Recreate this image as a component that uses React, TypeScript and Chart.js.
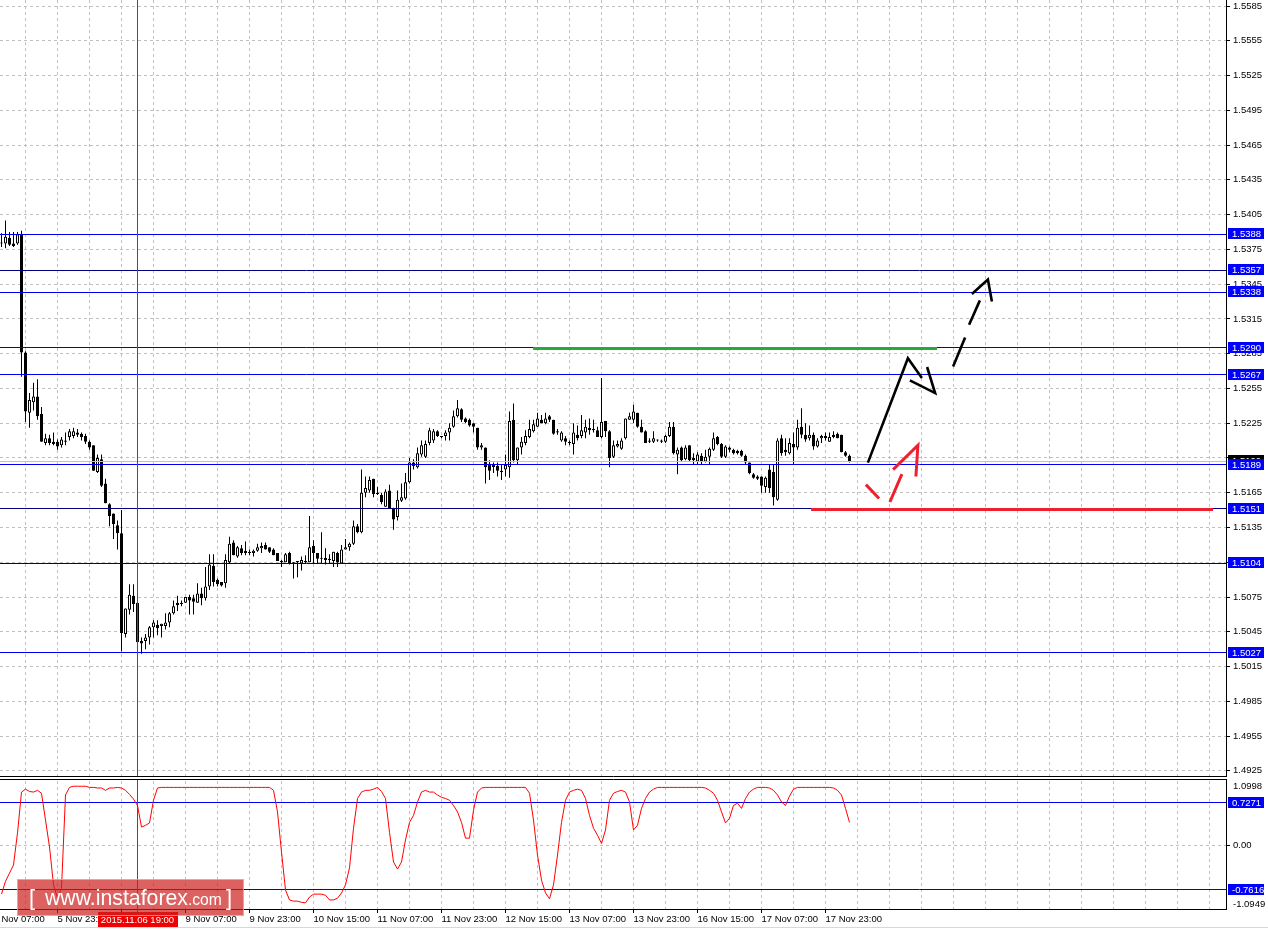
import React, { useEffect, useRef } from "react";
import { Chart, registerables } from "chart.js";

Chart.register(...registerables);

// ---------------- data (H1 candles, 5–17 Nov) ----------------
const OPEN = [
  1.5381, 1.538, 1.5385, 1.538, 1.538, 1.5388, 1.5286, 1.5234, 1.5243, 1.5248,
  1.5233, 1.5208, 1.5212, 1.5209, 1.5209, 1.5206, 1.521, 1.5213, 1.5214, 1.5217,
  1.5216, 1.5214, 1.5209, 1.5206, 1.5183, 1.5194, 1.5173, 1.5155, 1.5147, 1.5137,
  1.513, 1.5043, 1.5064, 1.5076, 1.507, 1.5037, 1.5037, 1.504, 1.5049, 1.5051,
  1.505, 1.505, 1.5053, 1.5061, 1.507, 1.507, 1.507, 1.5075, 1.5074, 1.507,
  1.5078, 1.5074, 1.5084, 1.5102, 1.509, 1.5088, 1.5087, 1.5105, 1.5122, 1.511,
  1.5117, 1.5115, 1.5114, 1.5113, 1.5115, 1.5117, 1.512, 1.5118, 1.5116, 1.5113,
  1.5106, 1.5105, 1.5113, 1.5105, 1.5105, 1.5104, 1.5106, 1.5105, 1.5119, 1.5113,
  1.5109, 1.5109, 1.5108, 1.5106, 1.5113, 1.5104, 1.5116, 1.5118, 1.5121, 1.5136,
  1.5131, 1.5165, 1.5167, 1.5177, 1.5165, 1.5163, 1.5153, 1.5167, 1.5151, 1.5144,
  1.5158, 1.516, 1.5174, 1.5191, 1.5187, 1.5198, 1.5196, 1.5208, 1.521, 1.5218,
  1.5213, 1.5214, 1.5217, 1.5222, 1.5231, 1.5237, 1.5229, 1.5228, 1.5225, 1.5221,
  1.5204, 1.5204, 1.519, 1.5189, 1.5188, 1.5184, 1.5185, 1.5187, 1.5228, 1.5193,
  1.5204, 1.5208, 1.5213, 1.5218, 1.5222, 1.5228, 1.5225, 1.5231, 1.5228, 1.5218,
  1.521, 1.5212, 1.5208, 1.5207, 1.5215, 1.5214, 1.5217, 1.5221, 1.522, 1.5219,
  1.5213, 1.5227, 1.5218, 1.5196, 1.5205, 1.5203, 1.5212, 1.5228, 1.5228, 1.5234,
  1.5222, 1.5218, 1.521, 1.5209, 1.521, 1.521, 1.5209, 1.5214, 1.5222, 1.5198,
  1.5204, 1.5194, 1.5206, 1.5195, 1.5192, 1.5197, 1.5192, 1.5196, 1.5202, 1.5213,
  1.5207, 1.5196, 1.5204, 1.5202, 1.5201, 1.5201, 1.5197, 1.5191, 1.5181, 1.5179,
  1.5179, 1.517, 1.5185, 1.5183, 1.5159, 1.5212, 1.5202, 1.5199, 1.5207, 1.5204,
  1.5222, 1.5215, 1.5212, 1.5215, 1.5205, 1.5212, 1.5214, 1.5209, 1.5215, 1.5216,
  1.5215, 1.52, 1.5197,
];
const HIGH = [
  1.5389, 1.54, 1.539, 1.539, 1.539, 1.5391, 1.5287, 1.5251, 1.526, 1.5263,
  1.5239, 1.5216, 1.5215, 1.5217, 1.5211, 1.5213, 1.5217, 1.522, 1.5221, 1.522,
  1.5217, 1.5216, 1.521, 1.5206, 1.5198, 1.5198, 1.5177, 1.5156, 1.5147, 1.5141,
  1.515, 1.5065, 1.5086, 1.5086, 1.507, 1.504, 1.5043, 1.505, 1.5055, 1.5055,
  1.5052, 1.5061, 1.5062, 1.5072, 1.5076, 1.5072, 1.5075, 1.5077, 1.5077, 1.5087,
  1.5083, 1.5101, 1.5112, 1.5112, 1.5091, 1.5088, 1.5112, 1.5127, 1.5124, 1.5119,
  1.512, 1.5123, 1.5116, 1.5116, 1.5121, 1.5122, 1.5122, 1.5118, 1.5117, 1.5113,
  1.5107, 1.5113, 1.5114, 1.5105, 1.5106, 1.511, 1.5111, 1.5145, 1.5124, 1.5113,
  1.5131, 1.5117, 1.5112, 1.5114, 1.5114, 1.512, 1.5125, 1.5122, 1.5141, 1.5138,
  1.5185, 1.5179, 1.5179, 1.5177, 1.517, 1.5165, 1.5168, 1.5172, 1.5152, 1.5167,
  1.5173, 1.5182, 1.5195, 1.5194, 1.5204, 1.521, 1.521, 1.5221, 1.522, 1.5219,
  1.5214, 1.5219, 1.5225, 1.5236, 1.5245, 1.5238, 1.523, 1.5229, 1.5225, 1.5221,
  1.5208, 1.5204, 1.5193, 1.5191, 1.5191, 1.5189, 1.5198, 1.5235, 1.5242, 1.5204,
  1.5213, 1.5219, 1.5228, 1.5228, 1.5234, 1.5232, 1.5234, 1.5232, 1.5228, 1.522,
  1.5218, 1.5214, 1.521, 1.5225, 1.5223, 1.5232, 1.5228, 1.5229, 1.5228, 1.5222,
  1.5264, 1.5227, 1.5219, 1.521, 1.521, 1.5212, 1.5229, 1.5234, 1.5241, 1.5234,
  1.5228, 1.5219, 1.5212, 1.5218, 1.5211, 1.5211, 1.5215, 1.5226, 1.5226, 1.5204,
  1.5205, 1.5206, 1.5206, 1.5199, 1.52, 1.5199, 1.5202, 1.5204, 1.5217, 1.5214,
  1.5208, 1.5206, 1.5205, 1.5203, 1.5202, 1.5202, 1.5198, 1.5191, 1.5182, 1.518,
  1.5179, 1.5179, 1.5189, 1.5189, 1.5212, 1.5215, 1.5212, 1.5212, 1.5217, 1.5228,
  1.5238, 1.5225, 1.5223, 1.5217, 1.5212, 1.5215, 1.5217, 1.5217, 1.5218, 1.5217,
  1.5215, 1.5201, 1.5198,
];
const LOW = [
  1.5377, 1.5376, 1.5378, 1.5377, 1.5379, 1.5265, 1.5226, 1.5221, 1.5236, 1.5228,
  1.5209, 1.5206, 1.5206, 1.5206, 1.5202, 1.5204, 1.5206, 1.521, 1.5212, 1.5213,
  1.521, 1.5207, 1.5202, 1.5184, 1.5182, 1.517, 1.5156, 1.5136, 1.5125, 1.5116,
  1.5028, 1.504, 1.506, 1.5062, 1.5036, 1.5026, 1.503, 1.5034, 1.504, 1.5042,
  1.504, 1.5047, 1.5049, 1.506, 1.5063, 1.5067, 1.507, 1.506, 1.506, 1.507,
  1.5068, 1.5072, 1.5081, 1.5084, 1.5084, 1.5084, 1.5083, 1.5104, 1.5111, 1.5109,
  1.5111, 1.5111, 1.5111, 1.511, 1.5114, 1.5113, 1.5116, 1.5113, 1.5111, 1.5106,
  1.5101, 1.5105, 1.5103, 1.5091, 1.5092, 1.5098, 1.5104, 1.5105, 1.5104, 1.5104,
  1.5104, 1.5103, 1.5104, 1.5101, 1.5101, 1.5104, 1.5116, 1.5115, 1.512, 1.513,
  1.513, 1.5161, 1.5165, 1.5161, 1.5163, 1.5155, 1.5153, 1.5151, 1.5133, 1.5141,
  1.5157, 1.5159, 1.5173, 1.5185, 1.5186, 1.5196, 1.5195, 1.5206, 1.5208, 1.5213,
  1.5212, 1.521, 1.521, 1.5221, 1.523, 1.5226, 1.5225, 1.5222, 1.5217, 1.5202,
  1.5202, 1.5173, 1.5176, 1.5182, 1.5179, 1.5176, 1.5179, 1.5178, 1.5191, 1.5189,
  1.5198, 1.5206, 1.5212, 1.5217, 1.5222, 1.5225, 1.5224, 1.5226, 1.5215, 1.5215,
  1.5209, 1.5206, 1.5206, 1.5198, 1.521, 1.5212, 1.5212, 1.5215, 1.5217, 1.5213,
  1.5212, 1.5213, 1.5187, 1.5195, 1.5204, 1.5202, 1.5211, 1.5228, 1.5225, 1.5221,
  1.5217, 1.5208, 1.5208, 1.5208, 1.5209, 1.5208, 1.5208, 1.5213, 1.5198, 1.5181,
  1.5192, 1.5193, 1.5192, 1.5189, 1.5189, 1.5189, 1.5191, 1.5189, 1.5201, 1.5206,
  1.5195, 1.5195, 1.52, 1.5198, 1.5198, 1.5196, 1.5189, 1.5181, 1.5177, 1.5176,
  1.5165, 1.5165, 1.5165, 1.5154, 1.5158, 1.5197, 1.5197, 1.5198, 1.5189, 1.5202,
  1.5212, 1.5209, 1.521, 1.5202, 1.5204, 1.5208, 1.521, 1.5209, 1.5212, 1.5212,
  1.52, 1.5196, 1.5191,
];
const CLOSE = [
  1.538, 1.5386, 1.5379, 1.5378, 1.5388, 1.5286, 1.5235, 1.5245, 1.5248, 1.5231,
  1.5209, 1.5212, 1.5208, 1.5207, 1.5205, 1.5211, 1.5209, 1.5218, 1.5218, 1.5215,
  1.5213, 1.5209, 1.5204, 1.5184, 1.5195, 1.5171, 1.5156, 1.5145, 1.5138, 1.513,
  1.5044, 1.5065, 1.5077, 1.5069, 1.5036, 1.5035, 1.504, 1.5049, 1.5053, 1.5048,
  1.5052, 1.5053, 1.5061, 1.5067, 1.5068, 1.5069, 1.5075, 1.5072, 1.5071, 1.5078,
  1.5074, 1.5084, 1.5103, 1.5088, 1.5086, 1.5085, 1.5107, 1.5121, 1.5111, 1.5118,
  1.5113, 1.5113, 1.5113, 1.5115, 1.5118, 1.5119, 1.5116, 1.5114, 1.5111, 1.5106,
  1.5105, 1.5112, 1.5104, 1.5104, 1.5106, 1.5107, 1.5105, 1.5118, 1.5113, 1.5108,
  1.5108, 1.5107, 1.5107, 1.5114, 1.5105, 1.5116, 1.5118, 1.5121, 1.5136, 1.5131,
  1.5165, 1.5169, 1.5176, 1.5164, 1.5164, 1.5157, 1.5166, 1.5151, 1.5142, 1.5159,
  1.5161, 1.5174, 1.5191, 1.5188, 1.5199, 1.5206, 1.5207, 1.5219, 1.5218, 1.5214,
  1.5213, 1.5217, 1.5221, 1.5231, 1.5238, 1.5228, 1.5226, 1.5223, 1.5222, 1.5204,
  1.5206, 1.5187, 1.5184, 1.5187, 1.5184, 1.5183, 1.5189, 1.5227, 1.5193, 1.5204,
  1.5209, 1.5214, 1.522, 1.5224, 1.5229, 1.5225, 1.5229, 1.5228, 1.5216, 1.5217,
  1.5217, 1.5209, 1.5208, 1.5217, 1.5212, 1.5219, 1.5222, 1.5219, 1.5219, 1.5213,
  1.5226, 1.5218, 1.5195, 1.5206, 1.5207, 1.521, 1.5229, 1.5231, 1.5235, 1.5222,
  1.5217, 1.5208, 1.5209, 1.5212, 1.521, 1.5209, 1.5214, 1.5222, 1.5199, 1.5202,
  1.5193, 1.5204, 1.5193, 1.5193, 1.5198, 1.5192, 1.5196, 1.5203, 1.5212, 1.5207,
  1.5196, 1.5205, 1.5202, 1.5199, 1.5199, 1.5197, 1.5191, 1.5182, 1.5178, 1.5177,
  1.5171, 1.5178, 1.5169, 1.5161, 1.521, 1.5199, 1.52, 1.5208, 1.5204, 1.5221,
  1.5215, 1.5211, 1.5215, 1.5205, 1.521, 1.5214, 1.5212, 1.5213, 1.5213, 1.5212,
  1.52, 1.5197, 1.5192,
];
const OSC = [
  -0.84, -0.62, -0.48, -0.34, 0.21, 0.91, 0.96, 0.92, 0.91, 0.94,
  0.89, 0.43, -0.03, -0.68, -0.91, -0.74, 0.86, 0.99, 1.01, 1.01,
  1.01, 1.01, 0.99, 0.99, 0.98, 0.98, 0.94, 0.98, 0.98, 0.99,
  0.98, 0.94, 0.87, 0.79, 0.68, 0.31, 0.34, 0.38, 0.77, 0.98,
  0.99, 0.99, 0.99, 0.99, 0.99, 0.99, 0.99, 0.99, 0.99, 0.99,
  0.99, 0.99, 0.99, 0.99, 0.99, 0.99, 0.99, 0.99, 0.99, 0.99,
  0.99, 0.99, 0.99, 0.99, 0.99, 0.99, 0.99, 0.99, 0.94, 0.57,
  -0.12, -0.77, -0.94, -0.96, -0.96, -0.98, -0.99, -0.89, -0.84, -0.84,
  -0.84, -0.86, -0.94, -0.94, -0.91, -0.82, -0.68, -0.39, 0.29, 0.8,
  0.91, 0.94, 0.94, 0.96, 0.99, 0.92, 0.8, 0.22, -0.29, -0.41,
  -0.29, 0.09, 0.39, 0.51, 0.74, 0.91, 0.94, 0.91, 0.91, 0.86,
  0.82, 0.8, 0.77, 0.68, 0.57, 0.39, 0.12, 0.12, 0.6, 0.91,
  0.98, 0.99, 0.99, 0.99, 0.99, 0.99, 0.99, 0.99, 0.99, 0.99,
  0.99, 0.99, 0.89, 0.43, -0.17, -0.6, -0.82, -0.92, -0.68, -0.17,
  0.39, 0.77, 0.91, 0.94, 0.96, 0.94, 0.8, 0.51, 0.29, 0.17,
  0.03, 0.26, 0.77, 0.89, 0.92, 0.94, 0.91, 0.74, 0.26, 0.34,
  0.63, 0.8, 0.91, 0.96, 0.99, 0.99, 0.99, 0.99, 0.99, 0.99,
  0.99, 0.99, 0.99, 0.99, 0.99, 0.99, 0.98, 0.94, 0.89, 0.77,
  0.57, 0.38, 0.46, 0.68, 0.72, 0.63, 0.8, 0.91, 0.96, 0.99,
  0.99, 0.99, 0.98, 0.94, 0.86, 0.74, 0.68, 0.84, 0.96, 0.99,
  0.99, 0.99, 0.99, 0.99, 0.99, 0.99, 0.99, 0.99, 0.98, 0.94,
  0.86, 0.63, 0.39,
];

const PRICE_TICKS = [
  1.5585, 1.5555, 1.5525, 1.5495, 1.5465, 1.5435, 1.5405, 1.5375, 1.5345, 1.5315,
  1.5285, 1.5255, 1.5225, 1.5195, 1.5165, 1.5135, 1.5105, 1.5075, 1.5045, 1.5015,
  1.4985, 1.4955, 1.4925,
];
const TIME_BARS = [-2, 14, 30, 46, 62, 78, 94, 110, 126, 142, 158, 174, 190, 206];
const TIME_LABELS = [
  "5 Nov 07:00", "5 Nov 23:00", "6 Nov 15:00", "9 Nov 07:00", "9 Nov 23:00",
  "10 Nov 15:00", "11 Nov 07:00", "11 Nov 23:00", "12 Nov 15:00", "13 Nov 07:00",
  "13 Nov 23:00", "16 Nov 15:00", "17 Nov 07:00", "17 Nov 23:00",
];
const PRICE_LEVELS = [1.5388, 1.5357, 1.5338, 1.529, 1.5267, 1.5189, 1.5151, 1.5104, 1.5027];
const DARK_LEVELS = [1.5357, 1.5151, 1.5104];
const OSC_LEVELS = [0.7271, -0.7616];
const OSC_MAX = 1.0998;
const OSC_MIN = -1.0949;
const LAST_PRICE = 1.5192;
const MARKER_BAR = 34;
const MARKER_LABEL = "2015.11.06 19:00";

// drawn objects, in (bar index, price)
const GREEN_LINE = [[132.9, 1.529], [233.9, 1.529]];
const RED_LINE = [[202.4, 1.5151], [302.9, 1.5151]];
const BLACK_SOLID = [[216.6, 1.5191], [226.6, 1.5281], [230.1, 1.5264]];
const BLACK_SOLID_HEAD = [[231.4, 1.52735], [233.4, 1.5251], [227.1, 1.5262]];
const BLACK_DASH_A = [[237.9, 1.5274], [240.9, 1.5299]];
const BLACK_DASH_B = [[241.9, 1.531], [244.6, 1.5331]];
const BLACK_DASH_HEAD = [[242.6, 1.53365], [246.6, 1.5349], [247.6, 1.533]];
const RED_DASH_A = [[216.1, 1.5172], [219.4, 1.516]];
const RED_DASH_B = [[222.1, 1.5157], [225.1, 1.5181]];
const RED_HEAD = [[222.9, 1.5185], [229.1, 1.5206], [228.6, 1.5179]];

// ---------------- layout / style ----------------
const W = 1268;
const H = 930;
const MAIN_H = 777;
const IND_TOP = 777;
const IND_H = H - IND_TOP;
const AXIS_W = 42;
const X_MIN = -0.375;
const X_MAX = 306.125;
const Y_MIN = 1.49197;
const Y_MAX = 1.55902;
const FONT = "'Liberation Sans', Arial, sans-serif";
const TICK_FONT = { family: FONT, size: 9.5 };
const GRID = "#c0c0c0";
const BLUE = "#0000ee";
const NAVY = "#000080";
const BOX_BLUE = "#0000ff";
const CROSS = "rgb(225,20,20)";
const GRID_BARS = Array.from({ length: 39 }, (_, k) => -2 + 8 * k);

function hline(ctx: any, x0: number, x1: number, y: number, color: string, w: number) {
  ctx.strokeStyle = color;
  ctx.lineWidth = w;
  ctx.beginPath();
  ctx.moveTo(x0, y);
  ctx.lineTo(x1, y);
  ctx.stroke();
}
function vline(ctx: any, x: number, y0: number, y1: number, color: string) {
  ctx.strokeStyle = color;
  ctx.lineWidth = 1;
  ctx.beginPath();
  ctx.moveTo(x, y0);
  ctx.lineTo(x, y1);
  ctx.stroke();
}
function poly(ctx: any, pts: number[][], X: (v: number) => number, Y: (v: number) => number) {
  ctx.beginPath();
  pts.forEach(([b, p], k) => (k ? ctx.lineTo(X(b), Y(p)) : ctx.moveTo(X(b), Y(p))));
  ctx.stroke();
}
function tag(ctx: any, left: number, yc: number, text: string, bg: string) {
  const top = Math.round(yc) - 6;
  ctx.fillStyle = bg;
  ctx.fillRect(left, top, 36, 11);
  ctx.fillStyle = "#fff";
  ctx.font = `9.5px ${FONT}`;
  ctx.textAlign = "left";
  ctx.textBaseline = "middle";
  ctx.fillText(text, left + 4, top + 6);
}
function fitFont(ctx: any, text: string, width: number) {
  ctx.font = `20px ${FONT}`;
  const w = ctx.measureText(text).width;
  return (20 * width) / w;
}

const mainOverlay = {
  id: "mainOverlay",
  afterDatasetsDraw(chart: any) {
    const { ctx, chartArea: a, scales } = chart;
    const X = (b: number) => scales.x.getPixelForValue(b);
    const Y = (p: number) => scales.y.getPixelForValue(p);
    const snap = (v: number) => Math.floor(v) + 0.5;
    ctx.save();
    ctx.beginPath();
    ctx.rect(a.left, a.top, a.right - a.left, a.bottom - a.top);
    ctx.clip();
    hline(ctx, a.left, a.right, snap(Y(LAST_PRICE)), GRID, 1);
    PRICE_LEVELS.forEach((p) =>
      hline(ctx, a.left, a.right, snap(Y(p)), DARK_LEVELS.includes(p) ? NAVY : BLUE, 1)
    );
    vline(ctx, snap(X(MARKER_BAR)), a.top, a.bottom, CROSS);
    ctx.lineCap = "butt";
    ctx.lineWidth = 3;
    ctx.strokeStyle = "#2aa83c";
    ctx.beginPath();
    ctx.moveTo(X(GREEN_LINE[0][0]), Math.round(Y(GREEN_LINE[0][1])) + 0.5);
    ctx.lineTo(X(GREEN_LINE[1][0]), Math.round(Y(GREEN_LINE[1][1])) + 0.5);
    ctx.stroke();
    ctx.strokeStyle = "#ee2030";
    ctx.beginPath();
    ctx.moveTo(X(RED_LINE[0][0]), Math.round(Y(RED_LINE[0][1])) + 0.5);
    ctx.lineTo(X(RED_LINE[1][0]), Math.round(Y(RED_LINE[1][1])) + 0.5);
    ctx.stroke();
    ctx.lineJoin = "miter";
    ctx.strokeStyle = "#000";
    ctx.lineWidth = 2.6;
    [BLACK_SOLID, BLACK_SOLID_HEAD, BLACK_DASH_A, BLACK_DASH_B, BLACK_DASH_HEAD].forEach((p) =>
      poly(ctx, p, X, Y)
    );
    ctx.strokeStyle = "#ee2030";
    ctx.lineWidth = 3;
    [RED_DASH_A, RED_DASH_B, RED_HEAD].forEach((p) => poly(ctx, p, X, Y));
    ctx.restore();
  },
  afterDraw(chart: any) {
    const { ctx, chartArea: a, scales } = chart;
    const Y = (p: number) => scales.y.getPixelForValue(p);
    ctx.save();
    hline(ctx, 0, a.right + 1, a.bottom - 0.5, "#000", 1);
    tag(ctx, a.right + 2, Y(LAST_PRICE), LAST_PRICE.toFixed(4), "#000");
    PRICE_LEVELS.forEach((p) => tag(ctx, a.right + 2, Y(p), p.toFixed(4), BOX_BLUE));
    ctx.restore();
  },
};

const indOverlay = {
  id: "indOverlay",
  beforeDatasetsDraw(chart: any) {
    const { ctx, chartArea: a, scales } = chart;
    ctx.save();
    OSC_LEVELS.forEach((v) =>
      hline(ctx, a.left, a.right, Math.floor(scales.y.getPixelForValue(v)) + 0.5, BLUE, 1)
    );
    ctx.restore();
  },
  afterDraw(chart: any) {
    const { ctx, chartArea: a, scales } = chart;
    const X = (b: number) => scales.x.getPixelForValue(b);
    const Y = (v: number) => scales.y.getPixelForValue(v);
    ctx.save();
    hline(ctx, 0, a.right + 1, a.top - 1.5, "#000", 1);
    vline(ctx, a.right + 0.5, a.top - 2, a.top + 1, "#000");
    const mx = Math.floor(X(MARKER_BAR)) + 0.5;
    vline(ctx, mx, a.top - 1, a.bottom + 3, CROSS);
    OSC_LEVELS.forEach((v) => tag(ctx, a.right + 2, Y(v), v.toFixed(4), BOX_BLUE));
    ctx.fillStyle = "#000";
    ctx.font = `9.5px ${FONT}`;
    ctx.textAlign = "left";
    ctx.textBaseline = "middle";
    ctx.fillText(OSC_MAX.toFixed(4), a.right + 7, Y(OSC_MAX) + 5.5);
    ctx.fillText(OSC_MIN.toFixed(4), a.right + 7, Y(OSC_MIN) - 5);
    // date marker box
    ctx.fillStyle = "#f00000";
    ctx.fillRect(Math.round(X(MARKER_BAR)) - 40, a.bottom + 3, 80, 15);
    ctx.fillStyle = "#fff";
    ctx.textAlign = "center";
    ctx.fillText(MARKER_LABEL, X(MARKER_BAR), a.bottom + 11);
    hline(ctx, 0, W, a.bottom + 18.5, "#d8d8d8", 1);
    // watermark
    ctx.fillStyle = "rgba(205,32,32,0.7)";
    ctx.fillRect(17, 102, 227, 37);
    ctx.strokeStyle = "rgba(255,215,215,0.55)";
    ctx.lineWidth = 1;
    ctx.strokeRect(17.5, 102.5, 226, 36);
    ctx.fillStyle = "#fff";
    ctx.textAlign = "left";
    ctx.textBaseline = "alphabetic";
    ctx.font = `22px ${FONT}`;
    ctx.fillText("[", 29, 128);
    const s1 = fitFont(ctx, "www.instaforex", 143);
    ctx.font = `${s1}px ${FONT}`;
    ctx.fillText("www.instaforex", 45, 128);
    const w1 = ctx.measureText("www.instaforex").width;
    const s2 = fitFont(ctx, ".com", 34);
    ctx.font = `${s2}px ${FONT}`;
    ctx.fillText(".com", 45 + w1, 128);
    ctx.font = `22px ${FONT}`;
    ctx.fillText("]", 226, 128);
    ctx.restore();
  },
};

function mainConfig(): any {
  const idx = OPEN.map((_, i) => i);
  return {
    type: "bar",
    data: {
      datasets: [
        {
          label: "wick",
          data: idx.map((i) => ({ x: i, y: [LOW[i], HIGH[i]] })),
          backgroundColor: "#000",
          borderWidth: 0,
          barThickness: 1,
          maxBarThickness: 1,
          grouped: false,
          inflateAmount: 0,
          order: 2,
        },
        {
          label: "body",
          data: idx.map((i) => ({ x: i, y: [OPEN[i], CLOSE[i]] })),
          backgroundColor: idx.map((i) => (CLOSE[i] > OPEN[i] ? "#ffffff" : "#000000")),
          borderColor: "#000",
          borderWidth: 1,
          borderSkipped: false,
          barThickness: 3,
          maxBarThickness: 3,
          minBarLength: 1,
          grouped: false,
          inflateAmount: 0,
          order: 1,
        },
      ],
    },
    options: {
      animation: false,
      responsive: false,
      devicePixelRatio: 1,
      events: [],
      layout: { padding: 0, autoPadding: false },
      plugins: { legend: { display: false }, tooltip: { enabled: false } },
      scales: {
        x: {
          type: "linear",
          min: X_MIN,
          max: X_MAX,
          offset: false,
          afterBuildTicks: (s: any) => {
            s.ticks = GRID_BARS.map((v) => ({ value: v }));
          },
          afterFit: (s: any) => {
            s.height = 0;
            s.paddingLeft = 0;
            s.paddingRight = 0;
          },
          ticks: { display: false },
          grid: { color: GRID, drawTicks: false, offset: false },
          border: { display: false, dash: [3, 3] },
        },
        y: {
          position: "right",
          min: Y_MIN,
          max: Y_MAX,
          afterBuildTicks: (s: any) => {
            s.ticks = PRICE_TICKS.map((v) => ({ value: v }));
          },
          afterFit: (s: any) => {
            s.width = AXIS_W;
            s.paddingTop = 0;
            s.paddingBottom = 0;
          },
          ticks: {
            autoSkip: false,
            padding: 3,
            font: TICK_FONT,
            color: "#000",
            callback: (v: any) => Number(v).toFixed(4),
          },
          grid: { color: GRID, tickLength: 4, tickColor: "#000", tickBorderDash: [], tickWidth: 1 },
          border: { display: true, color: "#000", dash: [3, 3] },
        },
      },
    },
    plugins: [mainOverlay],
  };
}

function indConfig(): any {
  return {
    type: "line",
    data: {
      datasets: [
        {
          label: "osc",
          data: OSC.map((v, i) => ({ x: i, y: v })),
          borderColor: "#ff0000",
          borderWidth: 1,
          pointRadius: 0,
          tension: 0,
          fill: false,
        },
      ],
    },
    options: {
      animation: false,
      responsive: false,
      devicePixelRatio: 1,
      events: [],
      layout: { padding: { top: 4, left: 0, right: 0, bottom: 0 }, autoPadding: false },
      plugins: { legend: { display: false }, tooltip: { enabled: false } },
      scales: {
        x: {
          type: "linear",
          min: X_MIN,
          max: X_MAX,
          offset: false,
          afterBuildTicks: (s: any) => {
            s.ticks = GRID_BARS.map((v) => ({ value: v }));
          },
          afterFit: (s: any) => {
            s.height = 21;
            s.paddingLeft = 0;
            s.paddingRight = 0;
          },
          ticks: {
            autoSkip: false,
            maxRotation: 0,
            minRotation: 0,
            align: "start",
            padding: 1,
            font: TICK_FONT,
            color: "#000",
            callback: (v: any) => {
              const k = TIME_BARS.indexOf(Number(v));
              return k >= 0 ? TIME_LABELS[k] : "";
            },
          },
          grid: {
            color: GRID,
            offset: false,
            tickLength: 4,
            tickBorderDash: [],
            tickColor: (c: any) =>
              c.tick && TIME_BARS.includes(c.tick.value) ? "#000" : "rgba(0,0,0,0)",
          },
          border: { display: true, color: "#000", dash: [3, 3] },
        },
        y: {
          position: "right",
          min: OSC_MIN,
          max: OSC_MAX,
          afterBuildTicks: (s: any) => {
            s.ticks = [{ value: 0 }];
          },
          afterFit: (s: any) => {
            s.width = AXIS_W;
            s.paddingTop = 0;
            s.paddingBottom = 0;
          },
          ticks: {
            autoSkip: false,
            padding: 3,
            font: TICK_FONT,
            color: "#000",
            callback: (v: any) => (Number(v) === 0 ? "0.00" : Number(v).toFixed(4)),
          },
          grid: { color: GRID, tickLength: 4, tickColor: "#000", tickBorderDash: [] },
          border: { display: true, color: "#000", dash: [3, 3] },
        },
      },
    },
    plugins: [indOverlay],
  };
}

export default function App() {
  const mainRef = useRef<HTMLCanvasElement>(null);
  const indRef = useRef<HTMLCanvasElement>(null);
  useEffect(() => {
    const c1 = new Chart(mainRef.current as HTMLCanvasElement, mainConfig());
    const c2 = new Chart(indRef.current as HTMLCanvasElement, indConfig());
    return () => {
      c1.destroy();
      c2.destroy();
    };
  }, []);
  return (
    <div
      style={{
        position: "absolute",
        left: 0,
        top: 0,
        width: W,
        height: H,
        background: "#fff",
        overflow: "hidden",
      }}
    >
      <canvas
        ref={mainRef}
        width={W}
        height={MAIN_H}
        style={{ position: "absolute", left: 0, top: 0, width: W, height: MAIN_H }}
      />
      <canvas
        ref={indRef}
        width={W}
        height={IND_H}
        style={{ position: "absolute", left: 0, top: IND_TOP, width: W, height: IND_H }}
      />
    </div>
  );
}
